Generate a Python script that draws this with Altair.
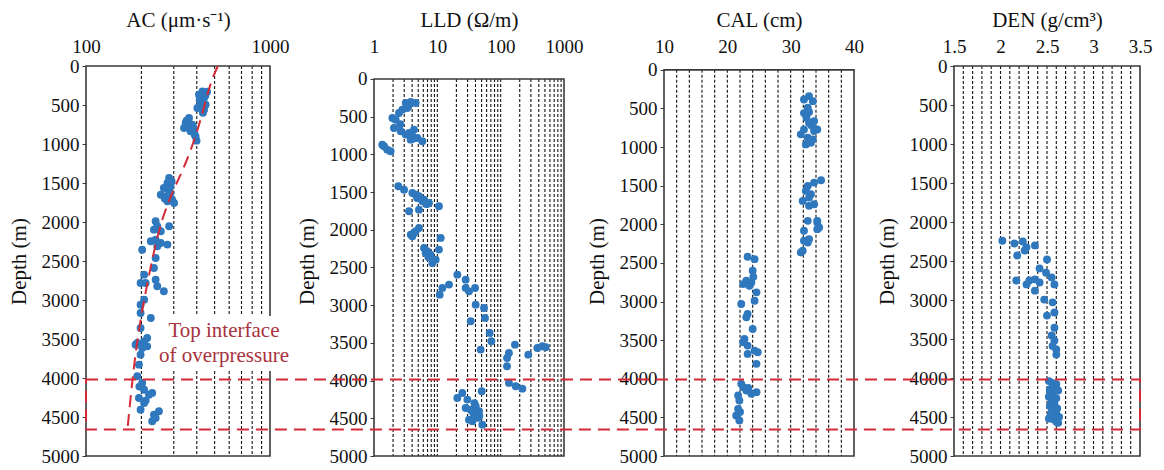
import altair as alt
import pandas as pd

# ---------------- data ----------------
depth_ticks = [0, 500, 1000, 1500, 2000, 2500, 3000, 3500, 4000, 4500, 5000]

ac_value = [429, 447, 411, 438, 420, 447, 403, 438, 455, 432, 415, 445,
            363, 348, 341, 378, 386, 370, 394, 399, 356, 390, 352, 382,
            283, 277, 265, 288, 255, 271, 288, 294, 277, 301, 282, 268, 292,
            239, 244, 283, 234, 255, 225, 239, 202, 255, 277, 244, 239, 234, 207, 198, 211,
            239, 244, 265, 207, 198, 198, 225, 198, 190, 186, 207, 215, 215, 202, 198, 194,
            190, 202, 207, 194, 220, 229, 207, 198, 234, 249, 229, 239, 195, 211]
ac_depth = [325, 346, 368, 410, 474, 496, 538, 560, 330, 600, 440, 380,
            667, 731, 795, 752, 816, 838, 902, 957, 773, 880, 700, 780,
            1436, 1500, 1564, 1543, 1650, 1671, 1628, 1714, 1735, 1756, 1600, 1700, 1480,
            1991, 2055, 2055, 2098, 2119, 2247, 2226, 2355, 2269, 2290, 2311, 2461, 2590, 2675, 2782, 2782,
            2739, 2824, 2888, 2996, 3060, 3167, 3231, 3359, 3551, 3573, 3530, 3487, 3594, 3615, 3701, 3829,
            3978, 4064, 4150, 4256, 4214, 4192, 4320, 4406, 4470, 4427, 4555, 4513, 4110, 4290]

ac_trend_value = [521, 478, 432, 396, 341, 301, 259, 234, 209, 189, 176, 168]
ac_trend_depth = [0, 192, 577, 897, 1308, 1564, 1949, 2372, 2936, 3526, 4167, 4660]

lld_value = [3.17, 3.8, 4.55, 2.8, 3.36, 2.48, 1.95, 2.2, 2.07, 2.64, 3.17, 3.57, 4.03, 3.8, 4.83, 5.8, 4.28,
             3.5, 2.6, 4.2,
             1.44, 1.62, 1.83, 1.35,
             2.42, 2.98, 4.03, 5.13, 6.17, 7.38, 10.6, 4.55, 5.8, 3.57, 5.13, 4.8, 6.8,
             3.8, 4.55, 5.13, 4.03, 11.3, 4.3,
             6.17, 6.95, 7.85, 6.55, 8.33, 9.42, 10.6, 7.2,
             10.9, 12.0, 15.3, 20.7, 28.0, 28.0, 31.6, 39.4, 40.3, 54.6, 33.6, 56.6, 67.0, 71.3, 48.3,
             135, 126, 126, 168, 273, 379, 455, 514,
             135, 173, 220,
             20.7, 24.8, 29.8, 28.0, 35.7, 40.3, 42.9, 31.6, 51.4, 50.2, 45.5, 37.9, 33.6, 43.0, 35.7,
             38.5, 46.0]
lld_depth = [318, 305, 318, 407, 385, 451, 517, 540, 650, 694, 738, 716, 760, 805, 782, 826, 672,
             360, 600, 790,
             892, 937, 959, 871,
             1423, 1468, 1512, 1556, 1600, 1644, 1688, 1534, 1622, 1755, 1733, 1580, 1660,
             2064, 2020, 1976, 2086, 2108, 2040,
             2241, 2285, 2330, 2307, 2440, 2396, 2263, 2360,
             2860, 2771, 2727, 2595, 2661, 2771, 2816, 2771, 2993, 3037, 3213, 3169, 3368, 3478, 3589,
             3633, 3700, 3810, 3523, 3656, 3567, 3545, 3558,
             4031, 4075, 4107,
             4230, 4164, 4252, 4363, 4407, 4340, 4495, 4518, 4584, 4141, 4407, 4451, 4385, 4407, 4540,
             4300, 4470]

cal_value = [32.9, 32.1, 33.5, 32.7, 32.1, 32.9, 33.7, 32.1, 33.7, 34.2, 31.6, 32.7, 33.5, 32.4, 33.2, 32.9,
             32.5, 33.3,
             34.8, 33.7, 32.7, 32.4, 33.2, 31.9, 32.9, 33.7, 32.9,
             34.2, 32.7, 34.2, 34.5, 32.1, 32.1, 32.7, 32.9, 31.9, 31.6, 34.2,
             23.2, 24.3, 24.0, 23.8, 22.5, 23.0, 23.5, 24.6, 22.2, 24.3, 23.2, 23.0, 24.0, 22.7, 23.2, 22.5,
             24.3, 24.8, 24.6, 23.2, 24.1,
             22.2, 23.0, 23.8, 24.6, 22.5, 21.9, 21.7, 21.4, 21.9, 21.7, 22.0, 23.3]
cal_depth = [340, 383, 405, 491, 560, 685, 663, 771, 792, 771, 835, 878, 900, 965, 943, 545,
             620, 720,
             1430, 1460, 1503, 1567, 1611, 1697, 1654, 1740, 1761,
             1955, 1955, 1977, 2041, 2084, 2213, 2235, 2192, 2343, 2365, 2063,
             2420, 2451, 2601, 2752, 2774, 2730, 2795, 2881, 3032, 2989, 3161, 3204, 3355, 3484, 3570, 3527,
             3635, 3656, 3807, 3678, 2680,
             4066, 4152, 4195, 4173, 4109, 4281, 4389, 4475, 4539, 4217, 4430, 4120]

den_value = [2.02, 2.15, 2.24, 2.28, 2.18, 2.37, 2.26,
             2.50, 2.42, 2.49, 2.55, 2.58, 2.17, 2.28, 2.31, 2.37, 2.42, 2.37, 2.47, 2.56, 2.58, 2.50,
             2.58, 2.55, 2.58, 2.56, 2.60, 2.60,
             2.52, 2.55, 2.60, 2.58, 2.53, 2.62, 2.56, 2.52, 2.60, 2.55, 2.58, 2.53, 2.61, 2.56, 2.60,
             2.54, 2.63, 2.57, 2.60, 2.62, 2.52, 2.55]
den_depth = [2240, 2275, 2250, 2325, 2430, 2300, 2365,
             2480, 2595, 2650, 2710, 2800, 2750, 2800, 2750, 2735, 2775, 2880, 2995, 3030, 3160, 3200,
             3355, 3455, 3520, 3590, 3635, 3700,
             4040, 4060, 4080, 4120, 4150, 4160, 4200, 4240, 4260, 4300, 4330, 4360, 4390, 4420, 4460,
             4480, 4500, 4530, 4560, 4575, 4520, 4440]

ac_grid = [200, 300, 400, 500, 600, 700, 800, 900]
lld_grid = [2, 3, 4, 5, 6, 7, 8, 9, 10, 20, 30, 40, 50, 60, 70, 80, 90, 100,
            200, 300, 400, 500, 600, 700, 800, 900]
cal_grid = [12, 14, 16, 18, 20, 22, 24, 26, 28, 30, 32, 34, 36, 38]
den_grid = [1.6, 1.7, 1.8, 1.9, 2.0, 2.1, 2.2, 2.3, 2.4, 2.5, 2.6, 2.7, 2.8, 2.9,
            3.0, 3.1, 3.2, 3.3, 3.4]

ac_labels = [100, 1000]
lld_labels = [1, 10, 100, 1000]
cal_labels = [10, 20, 30, 40]
den_labels = [1.5, 2, 2.5, 3, 3.5]

overpressure_top = [4020]
overpressure_bottom = [4660]
note_lines = ["Top interface", "of overpressure"]
note_value = [562, 562]
note_depth = [3397, 3718]
note_box = {"v0": [249], "v1": [1351], "d0": [3205], "d1": [3910]}

# ---------------- style ----------------
FONT = "Liberation Serif"
BLUE = "#2f78be"
RED = "#d42a36"
NOTE_RED = "#a8323e"
FRAME = "#3a3a3a"
H = 390
SP1 = 104
SP2 = 100
W_AC, W_LLD, W_CAL, W_DEN = 184, 190, 190, 186


def make_panel(title, xtype, xdomain, xlabels, grid, xs, ys, width, ytop, fmt, extras=None):
    xscale = alt.Scale(type=xtype, domain=xdomain, nice=False, zero=False)
    yscale = alt.Scale(domain=[ytop, 5000], reverse=True, nice=False, zero=False)
    xaxis = alt.Axis(orient="top", values=xlabels, format=fmt, grid=False, ticks=False,
                     domain=False, labelPadding=10, titlePadding=7, labelFlush=False)
    yaxis = alt.Axis(values=depth_ticks, grid=False, domain=False, ticks=True, tickSize=4,
                     tickColor=FRAME, labelPadding=3, titlePadding=12, format="d",
                     labelFlush=False)

    def X(f):
        return alt.X(f, type="quantitative", scale=xscale, axis=xaxis, title=title)

    def Y(f):
        return alt.Y(f, type="quantitative", scale=yscale, axis=yaxis, title="Depth (m)")

    grid_df = pd.DataFrame({"g": grid, "top": 0, "bottom": 5000})
    gridl = alt.Chart(grid_df).mark_rule(color="#111", strokeWidth=1.1, strokeDash=[3, 2]).encode(
        x=X("g"), y=Y("top"), y2="bottom")
    frame = alt.Chart(pd.DataFrame({"top": [0], "bottom": [5000]})).mark_rect(
        fillOpacity=0, stroke=FRAME, strokeWidth=1.6).encode(
        x=alt.value(0), x2=alt.value(width), y=Y("top"), y2="bottom")
    pts = alt.Chart(pd.DataFrame({"v": xs, "d": ys})).mark_circle(
        size=62, color=BLUE, opacity=1).encode(x=X("v"), y=Y("d"))
    layers = [gridl, frame, pts]
    if extras is not None:
        layers += extras(X, Y, width)
    return alt.layer(*layers).properties(width=width, height=H)


def ac_extras(X, Y, width):
    trend = alt.Chart(pd.DataFrame({"v": ac_trend_value, "d": ac_trend_depth})).mark_line(
        color=RED, strokeWidth=2, strokeDash=[12, 7], interpolate="basis").encode(
        x=X("v"), y=Y("d"), order="d:Q")
    box = alt.Chart(pd.DataFrame(note_box)).mark_rect(fill="white").encode(
        x=X("v0"), x2="v1", y=Y("d0"), y2="d1")
    txt = alt.Chart(pd.DataFrame({"t": note_lines, "v": note_value, "d": note_depth})).mark_text(
        font=FONT, fontSize=21, color=NOTE_RED, align="center", baseline="middle").encode(
        x=X("v"), y=Y("d"), text="t:N")
    return [trend, box, txt]


def den_extras(X, Y, width):
    offset = W_AC + W_LLD + W_CAL + SP1 + 2 * SP2
    rect = alt.Chart(pd.DataFrame({"top": overpressure_top, "bottom": overpressure_bottom})).mark_rect(
        fillOpacity=0, stroke=RED, strokeWidth=2, strokeDash=[12, 7]).encode(
        x=alt.value(-offset), x2=alt.value(width), y=Y("top"), y2="bottom")
    return [rect]


ac = make_panel("AC (μm·s⁻¹)", "log", [100, 1000], ac_labels, ac_grid, ac_value, ac_depth,
                W_AC, 0, "d", ac_extras)
lld = make_panel("LLD (Ω/m)", "log", [1, 1000], lld_labels, lld_grid, lld_value, lld_depth,
                 W_LLD, -172, "d")
cal = make_panel("CAL (cm)", "linear", [10, 40], cal_labels, cal_grid, cal_value, cal_depth,
                 W_CAL, -50, "d")
den = make_panel("DEN (g/cm³)", "linear", [1.5, 3.5], den_labels, den_grid, den_value, den_depth,
                 W_DEN, 0, "~g", den_extras)

right = alt.hconcat(lld, cal, den, spacing=SP2, bounds="flush")
chart = alt.hconcat(ac, right, spacing=SP1, bounds="flush").properties(
    padding={"left": 8, "top": 9, "right": 5, "bottom": 5},
    background="white",
).configure(font=FONT).configure_axis(
    labelFont=FONT, titleFont=FONT, labelFontSize=19, titleFontSize=21,
    labelColor="#111", titleColor="#111", titleFontWeight="normal",
).configure_view(strokeWidth=0)

chart.save("out.html", embed_options={"renderer": "svg", "actions": False})
